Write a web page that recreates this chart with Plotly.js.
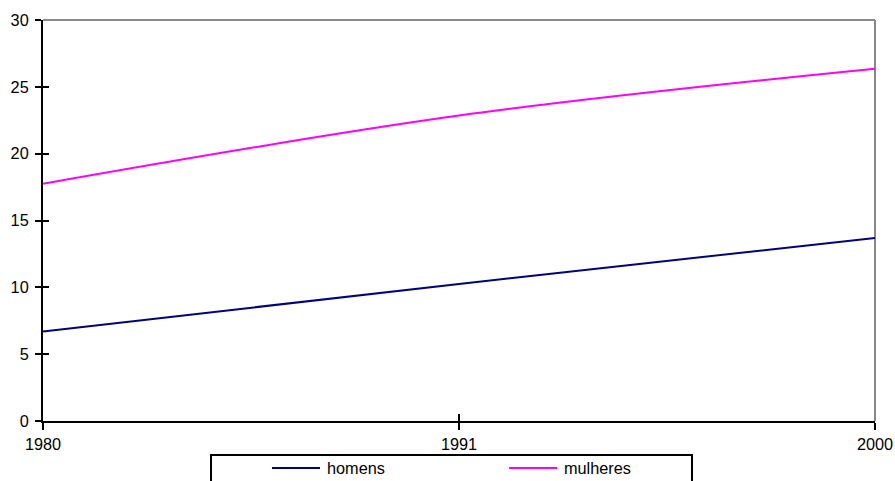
<!DOCTYPE html>
<html>
<head>
<meta charset="utf-8">
<script src="https://cdn.plot.ly/plotly-3.0.1.min.js"></script>
<style>
  html, body { margin: 0; padding: 0; background: #fff; }
  #chart { width: 895px; height: 481px; }
</style>
</head>
<body>
<div id="chart"></div>
<script>
// Census years and the two series
const years = ['1980', '1991', '2000'];
const homens = [6.7, 10.25, 13.7];
const mulheres = [17.75, 22.85, 26.35];
const yTicks = [0, 5, 10, 15, 20, 25, 30];

const seriesNames = ['homens', 'mulheres'];
const seriesColors = ['#000080', '#FF00FF'];

const W = 895, H = 481;
const M = { l: 43, r: 20, t: 20, b: 60 };
const plotW = W - M.l - M.r, plotH = H - M.t - M.b;
// pixel position -> paper fraction
const px = v => (v - M.l) / plotW;
const py = v => (H - M.b - v) / plotH;

const font = { family: 'Liberation Sans, Arial, sans-serif', size: 16.3, color: '#000' };

const traces = [
  {
    x: years, y: homens, name: seriesNames[0], type: 'scatter', mode: 'lines',
    line: { color: seriesColors[0], width: 2, shape: 'spline', smoothing: 1 },
    showlegend: false
  },
  {
    x: years, y: mulheres, name: seriesNames[1], type: 'scatter', mode: 'lines',
    line: { color: seriesColors[1], width: 2, shape: 'spline', smoothing: 1 },
    showlegend: false
  },
  // carrier for the overlay axes that draw the inner half of each tick
  {
    x: years, y: years.map(() => null), xaxis: 'x2', yaxis: 'y2',
    type: 'scatter', mode: 'lines', showlegend: false, hoverinfo: 'skip'
  }
];

// legend box, drawn as shapes and annotations below the axis
const legendBox = { x0: 211, x1: 692, y0: 455, y1: 495 };
const legendRow = 468;
const legendItems = [
  { lineX0: 272, lineX1: 320, textX: 326 },
  { lineX0: 509, lineX1: 557, textX: 563 }
];

const shapes = [
  { type: 'line', xref: 'paper', yref: 'paper', x0: 0, x1: 1, y0: 1, y1: 1,
    line: { color: '#888', width: 2 }, layer: 'below' },
  { type: 'line', xref: 'paper', yref: 'paper', x0: 1, x1: 1, y0: 0, y1: 1,
    line: { color: '#888', width: 2 }, layer: 'below' },
  { type: 'rect', xref: 'paper', yref: 'paper',
    x0: px(legendBox.x0), x1: px(legendBox.x1), y0: py(legendBox.y0), y1: py(legendBox.y1),
    line: { color: '#000', width: 2 }, fillcolor: '#fff' }
];
const annotations = [];
legendItems.forEach((it, i) => {
  shapes.push({
    type: 'line', xref: 'paper', yref: 'paper',
    x0: px(it.lineX0), x1: px(it.lineX1), y0: py(legendRow), y1: py(legendRow),
    line: { color: seriesColors[i], width: 2 }
  });
  annotations.push({
    xref: 'paper', yref: 'paper', x: px(it.textX), y: py(legendRow),
    xanchor: 'left', yanchor: 'middle', showarrow: false,
    text: seriesNames[i], font: font, borderpad: 0
  });
});

const layout = {
  width: W, height: H,
  margin: { l: M.l, r: M.r, t: M.t, b: M.b, pad: 0, autoexpand: false },
  paper_bgcolor: '#fff', plot_bgcolor: '#fff',
  font: font,
  showlegend: false,
  xaxis: {
    type: 'category', range: [0, 2], fixedrange: true,
    showgrid: false, zeroline: false,
    showline: true, linecolor: '#000', linewidth: 2,
    ticks: 'outside', ticklen: 7, tickwidth: 2, tickcolor: '#000',
    tickfont: font, ticklabelstandoff: 0
  },
  yaxis: {
    range: [0, 30], tickvals: yTicks, fixedrange: true,
    showgrid: false, zeroline: false,
    showline: true, linecolor: '#000', linewidth: 2,
    ticks: 'outside', ticklen: 6, tickwidth: 2, tickcolor: '#000',
    tickfont: font, ticklabelstandoff: 3
  },
  xaxis2: {
    type: 'category', range: [0, 2], overlaying: 'x', anchor: 'y2',
    showgrid: false, zeroline: false, showline: false, showticklabels: false,
    ticks: 'inside', ticklen: 7, tickwidth: 2, tickcolor: '#000'
  },
  yaxis2: {
    range: [0, 30], tickvals: yTicks, overlaying: 'y', anchor: 'x2',
    showgrid: false, zeroline: false, showline: false, showticklabels: false,
    ticks: 'inside', ticklen: 6, tickwidth: 2, tickcolor: '#000'
  },
  shapes: shapes,
  annotations: annotations
};

Plotly.newPlot('chart', traces, layout, { displayModeBar: false, staticPlot: true });
</script>
</body>
</html>
